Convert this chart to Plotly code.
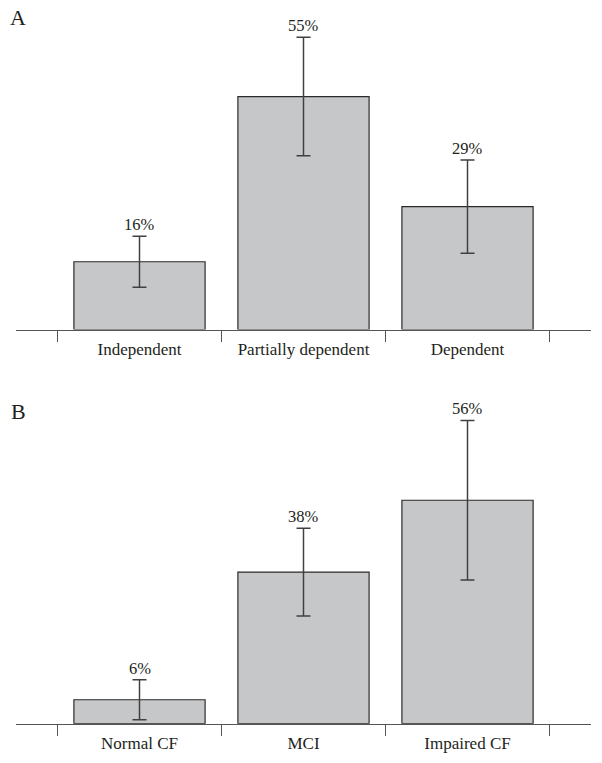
import plotly.graph_objects as go

# Panel A data
cats_a = ["Independent", "Partially dependent", "Dependent"]
vals_a = [16, 55, 29]
err_a = [6, 14, 11]
labels_a = ["16%", "55%", "29%"]

# Panel B data
cats_b = ["Normal CF", "MCI", "Impaired CF"]
vals_b = [6, 38, 56]
err_b = [5, 11, 20]
labels_b = ["6%", "38%", "56%"]

W, H = 602, 763
FONT = "Liberation Serif, Times New Roman, serif"
TEXT = "#231f20"
BAR_FILL = "#c6c7c9"
BAR_LINE = "#2a2a2a"
ERR_COL = "#404040"
AXIS_COL = "#555555"

fig = go.Figure()

def add_panel(cats, vals, errs, labels, xa, ya):
    fig.add_trace(go.Bar(
        x=cats, y=vals, width=0.8,
        marker=dict(color=BAR_FILL, line=dict(color=BAR_LINE, width=1.2)),
        error_y=dict(type="data", array=errs, visible=True,
                     color=ERR_COL, thickness=1.5, width=7),
        xaxis=xa, yaxis=ya, showlegend=False, hoverinfo="skip",
    ))
    for c, v, e, t in zip(cats, vals, errs, labels):
        fig.add_annotation(
            x=c, y=v + e, xref=xa, yref=ya, text=t, showarrow=False,
            xanchor="center", yanchor="bottom", yshift=0,
            font=dict(family=FONT, size=16.5, color=TEXT),
        )

add_panel(cats_a, vals_a, err_a, labels_a, "x", "y")
add_panel(cats_b, vals_b, err_b, labels_b, "x2", "y2")

xdom = [16 / W, 591 / W]
xcommon = dict(
    domain=xdom, range=[-0.753, 2.753], type="category",
    showline=True, linecolor=AXIS_COL, linewidth=1.3,
    ticks="outside", tickson="boundaries", ticklen=11, tickwidth=1.3,
    tickcolor=AXIS_COL, showgrid=False, zeroline=False,
    ticklabelstandoff=4,
    tickfont=dict(family=FONT, size=17, color=TEXT),
    fixedrange=True,
)

fig.update_layout(
    width=W, height=H,
    margin=dict(l=0, r=0, t=0, b=0),
    paper_bgcolor="white", plot_bgcolor="white",
    bargap=0.2,
    xaxis=dict(anchor="y", **xcommon),
    xaxis2=dict(anchor="y2", **xcommon),
    yaxis=dict(domain=[1 - 329.5 / H, 1 - 10 / H], range=[0, (329.5 - 10) / 4.235],
               visible=False, fixedrange=True),
    yaxis2=dict(domain=[1 - 723.7 / H, 1 - 405 / H], range=[0, (723.7 - 405) / 3.99],
                visible=False, fixedrange=True),
)

for txt, yy in [("A", 17.5), ("B", 411)]:
    fig.add_annotation(
        x=18.3 / W, y=1 - yy / H, xref="paper", yref="paper", text=txt,
        showarrow=False, xanchor="center", yanchor="middle",
        font=dict(family=FONT, size=22, color=TEXT),
    )

fig.write_html(
    "out.html",
    config={"displayModeBar": False},
    post_script="document.body.style.margin='0';document.body.style.overflow='hidden';",
)
